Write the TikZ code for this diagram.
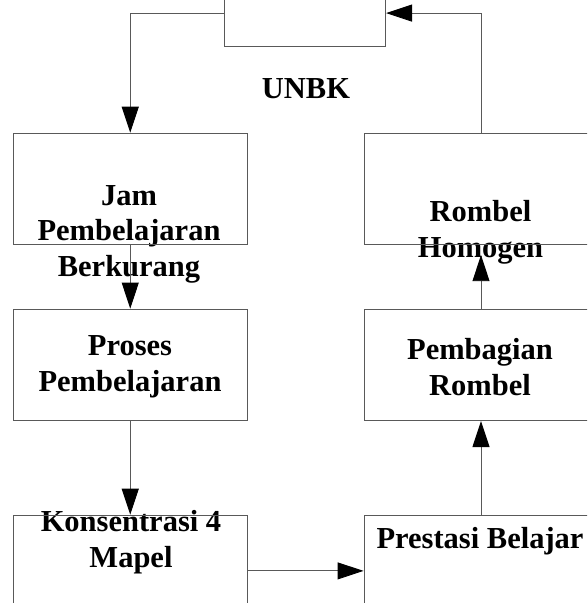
\documentclass[tikz,border=0pt]{standalone}
\usepackage{fontspec}
\setmainfont{Liberation Serif}
\usetikzlibrary{arrows.meta}
\begin{document}
\begin{tikzpicture}[x=1pt,y=-1pt,
  box/.style={draw=black!65, line width=0.9pt, minimum width=233.5pt, minimum height=111.6pt, inner sep=0pt},
  lbl/.style={font=\fontsize{30.5}{35.5}\selectfont\bfseries, align=center, inner sep=0pt},
  conn/.style={draw=black!65, line width=0.9pt},
  arr/.style={conn, -{Triangle[length=26pt,width=17pt,color=black]}}]
\useasboundingbox (0,0) rectangle (587,603);
\clip (0,0) rectangle (587,603);
% labels
\node[lbl, anchor=base] (tunbk) at (306,98.1) {UNBK};
\node[lbl] (tjam) at (129,234.3) {Jam\\Pembelajaran\\Berkurang};
\node[lbl] (trombel) at (480.5,232.3) {Rombel\\Homogen};
\node[lbl] (tproses) at (130,366.9) {Proses\\Pembelajaran};
\node[lbl] (tpemb) at (480,366.9) {Pembagian\\Rombel};
\node[lbl] (tkons) at (131,542) {Konsentrasi 4\\Mapel};
\node[lbl, anchor=base] (tprest) at (480,548.6) {Prestasi Belajar};
% boxes
\node[box, minimum width=161pt, minimum height=67.4pt] (top) at (305.1,13.1) {};
\node[box] (jam) at (130.25,188.9) {};
\node[box] (proses) at (130.25,364.85) {};
\node[box] (kons) at (130.25,570.9) {};
\node[box, minimum width=234pt] (rombel) at (481,188.9) {};
\node[box, minimum width=234pt] (pemb) at (481,364.85) {};
\node[box, minimum width=234pt] (prest) at (481,570.9) {};
% connectors
\draw[arr] (top.west) -| (jam.north);
\draw[arr] (jam.south) -- (proses.north);
\draw[arr] (proses.south) -- (kons.north);
\draw[arr] (kons.east) -- (prest.west);
\draw[arr] (prest.north) -- (pemb.south);
\draw[arr] (pemb.north) -- ([yshift=-10pt]rombel.south);
\draw[arr] (rombel.north) |- (top.east);
\end{tikzpicture}
\end{document}
